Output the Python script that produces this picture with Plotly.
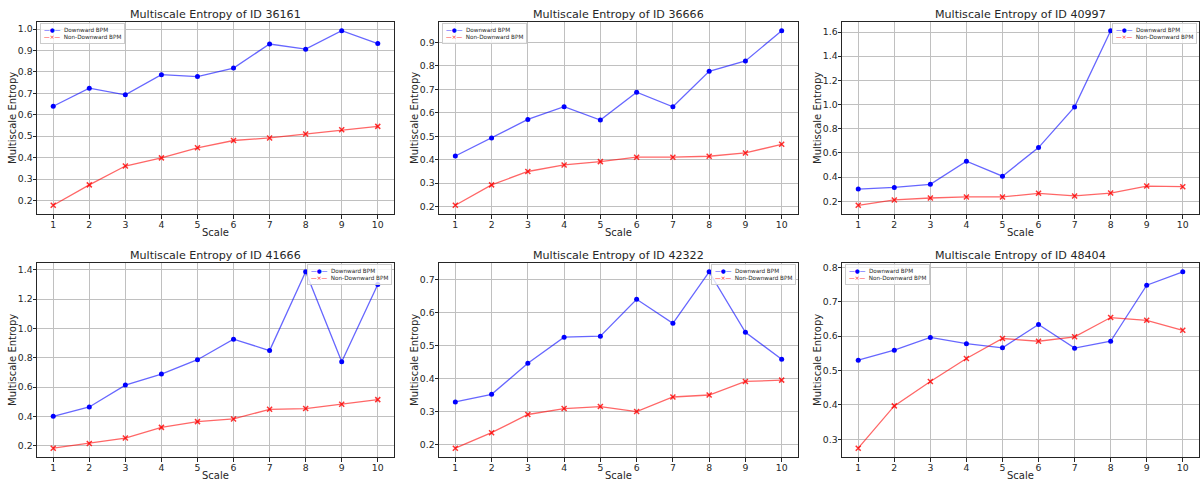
import plotly.graph_objects as go

scales = list(range(1, 11))

ids = ["36161", "36666", "40997", "41666", "42322", "48404"]

down_36161 = [0.640, 0.724, 0.693, 0.787, 0.778, 0.818, 0.930, 0.906, 0.992, 0.932]
non_36161 = [0.178, 0.273, 0.361, 0.399, 0.446, 0.480, 0.492, 0.510, 0.530, 0.546]

down_36666 = [0.416, 0.493, 0.572, 0.626, 0.569, 0.688, 0.626, 0.777, 0.821, 0.950]
non_36666 = [0.206, 0.293, 0.350, 0.378, 0.392, 0.411, 0.411, 0.415, 0.429, 0.466]

down_40997 = [0.301, 0.315, 0.340, 0.532, 0.408, 0.644, 0.981, 1.611, None, None]
non_40997 = [0.167, 0.211, 0.227, 0.236, 0.236, 0.266, 0.244, 0.268, 0.326, 0.321]

down_41666 = [0.401, 0.465, 0.614, 0.689, 0.787, 0.927, 0.849, 1.386, 0.773, 1.299]
non_41666 = [0.184, 0.216, 0.253, 0.326, 0.365, 0.383, 0.449, 0.454, 0.483, 0.515]

down_42322 = [0.329, 0.352, 0.446, 0.525, 0.528, 0.640, 0.567, 0.723, 0.540, 0.458]
non_42322 = [0.189, 0.236, 0.291, 0.309, 0.315, 0.300, 0.344, 0.350, 0.391, 0.395]

down_48404 = [0.530, 0.559, 0.596, 0.578, 0.566, 0.634, 0.565, 0.585, 0.748, 0.787]
non_48404 = [0.274, 0.397, 0.468, 0.535, 0.593, 0.585, 0.598, 0.654, 0.646, 0.617]

series_names = ["Downward BPM", "Non-Downward BPM"]

downs = [down_36161, down_36666, down_40997, down_41666, down_42322, down_48404]
nons = [non_36161, non_36666, non_40997, non_41666, non_42322, non_48404]
y_dticks = [0.1, 0.1, 0.2, 0.2, 0.1, 0.1]
legend_sides = ["left", "left", "right", "right", "right", "left"]

W, H = 1203, 481
FONT = "DejaVu Sans"
TXT = "#262626"
BLUE = "#0000ff"
RED = "#ff0000"

# pixel layout of axes boxes
cols = [(37, 394), (439, 798), (842, 1199)]
rows = [(22, 214), (263, 457)]

fig = go.Figure()
annotations = []
layout = dict(
    width=W, height=H,
    margin=dict(l=0, r=0, t=0, b=0),
    paper_bgcolor="white", plot_bgcolor="white",
    font=dict(family=FONT, color=TXT),
    showlegend=False,
)

axis_common = dict(
    showgrid=True, gridcolor="#c0c0c0", gridwidth=1.3,
    showline=True, mirror=True, linecolor=TXT, linewidth=1,
    ticks="outside", ticklen=3.5, tickcolor=TXT,
    tickfont=dict(size=9.3, family=FONT, color=TXT),
    zeroline=False, ticklabelstandoff=-2,
)

for i in range(6):
    r, c = divmod(i, 3)
    x0, x1 = cols[c]
    y0, y1 = rows[r]
    xa = "xaxis" if i == 0 else f"xaxis{i+1}"
    ya = "yaxis" if i == 0 else f"yaxis{i+1}"
    xref = "x" if i == 0 else f"x{i+1}"
    yref = "y" if i == 0 else f"y{i+1}"

    d = downs[i]
    n = nons[i]
    vals = [v for v in d + n if v is not None]
    lo, hi = min(vals), max(vals)
    span = hi - lo
    yr = [lo - 0.05 * span, hi + 0.05 * span]

    fig.add_trace(go.Scatter(
        x=scales, y=d, mode="lines+markers", name=series_names[0],
        line=dict(color="rgba(0,0,255,0.6)", width=1.3),
        marker=dict(color=BLUE, size=5, symbol="circle"),
        xaxis=xref, yaxis=yref, connectgaps=False,
    ))
    fig.add_trace(go.Scatter(
        x=scales, y=n, mode="lines+markers", name=series_names[1],
        line=dict(color="rgba(255,0,0,0.6)", width=1.3),
        marker=dict(color="rgba(255,0,0,0.8)", size=5, symbol="x-thin-open",
                    line=dict(color="rgba(255,0,0,0.8)", width=1.5)),
        xaxis=xref, yaxis=yref,
    ))

    layout[xa] = dict(
        domain=[x0 / W, x1 / W], anchor=yref, range=[0.55, 10.45],
        tickmode="linear", tick0=1, dtick=1, **axis_common,
    )
    layout[ya] = dict(
        domain=[1 - y1 / H, 1 - y0 / H], anchor=xref, range=yr,
        tickmode="linear", tick0=0, dtick=y_dticks[i], tickformat=".1f",
        **axis_common,
    )

    # legend box (compact, matplotlib-like)
    leg_text = (
        f"<span style='color:{BLUE}'>—●—</span>  {series_names[0]}<br>"
        f"<span style='color:{RED}'>—×—</span>  {series_names[1]}"
    )
    if legend_sides[i] == "left":
        lx, xanc = (x0 + 3) / W, "left"
    else:
        lx, xanc = (x1 - 2) / W, "right"
    annotations.append(dict(
        text=leg_text, xref="paper", yref="paper",
        x=lx, y=1 - (y0 + 1) / H, xanchor=xanc, yanchor="top", align="left",
        showarrow=False, bgcolor="rgba(255,255,255,0.8)",
        bordercolor="#cccccc", borderwidth=1, borderpad=3,
        font=dict(size=5.7, family=FONT, color=TXT),
    ))

    cx = (x0 + x1) / 2 / W
    annotations.append(dict(
        text=f"Multiscale Entropy of ID {ids[i]}", xref="paper", yref="paper",
        x=cx, y=1 - (y0 - 8) / H, xanchor="center", yanchor="middle",
        showarrow=False, font=dict(size=11.1, family=FONT, color=TXT),
    ))
    annotations.append(dict(
        text="Scale", xref="paper", yref="paper",
        x=cx, y=1 - (y1 + 18.5) / H, xanchor="center", yanchor="middle",
        showarrow=False, font=dict(size=10, family=FONT, color=TXT),
    ))
    annotations.append(dict(
        text="Multiscale Entropy", xref="paper", yref="paper",
        x=(x0 - 25) / W, y=1 - (y0 + y1) / 2 / H, xanchor="center", yanchor="middle",
        textangle=-90, showarrow=False, font=dict(size=10, family=FONT, color=TXT),
    ))

layout["annotations"] = annotations
fig.update_layout(**layout)
fig.write_html("out.html")
